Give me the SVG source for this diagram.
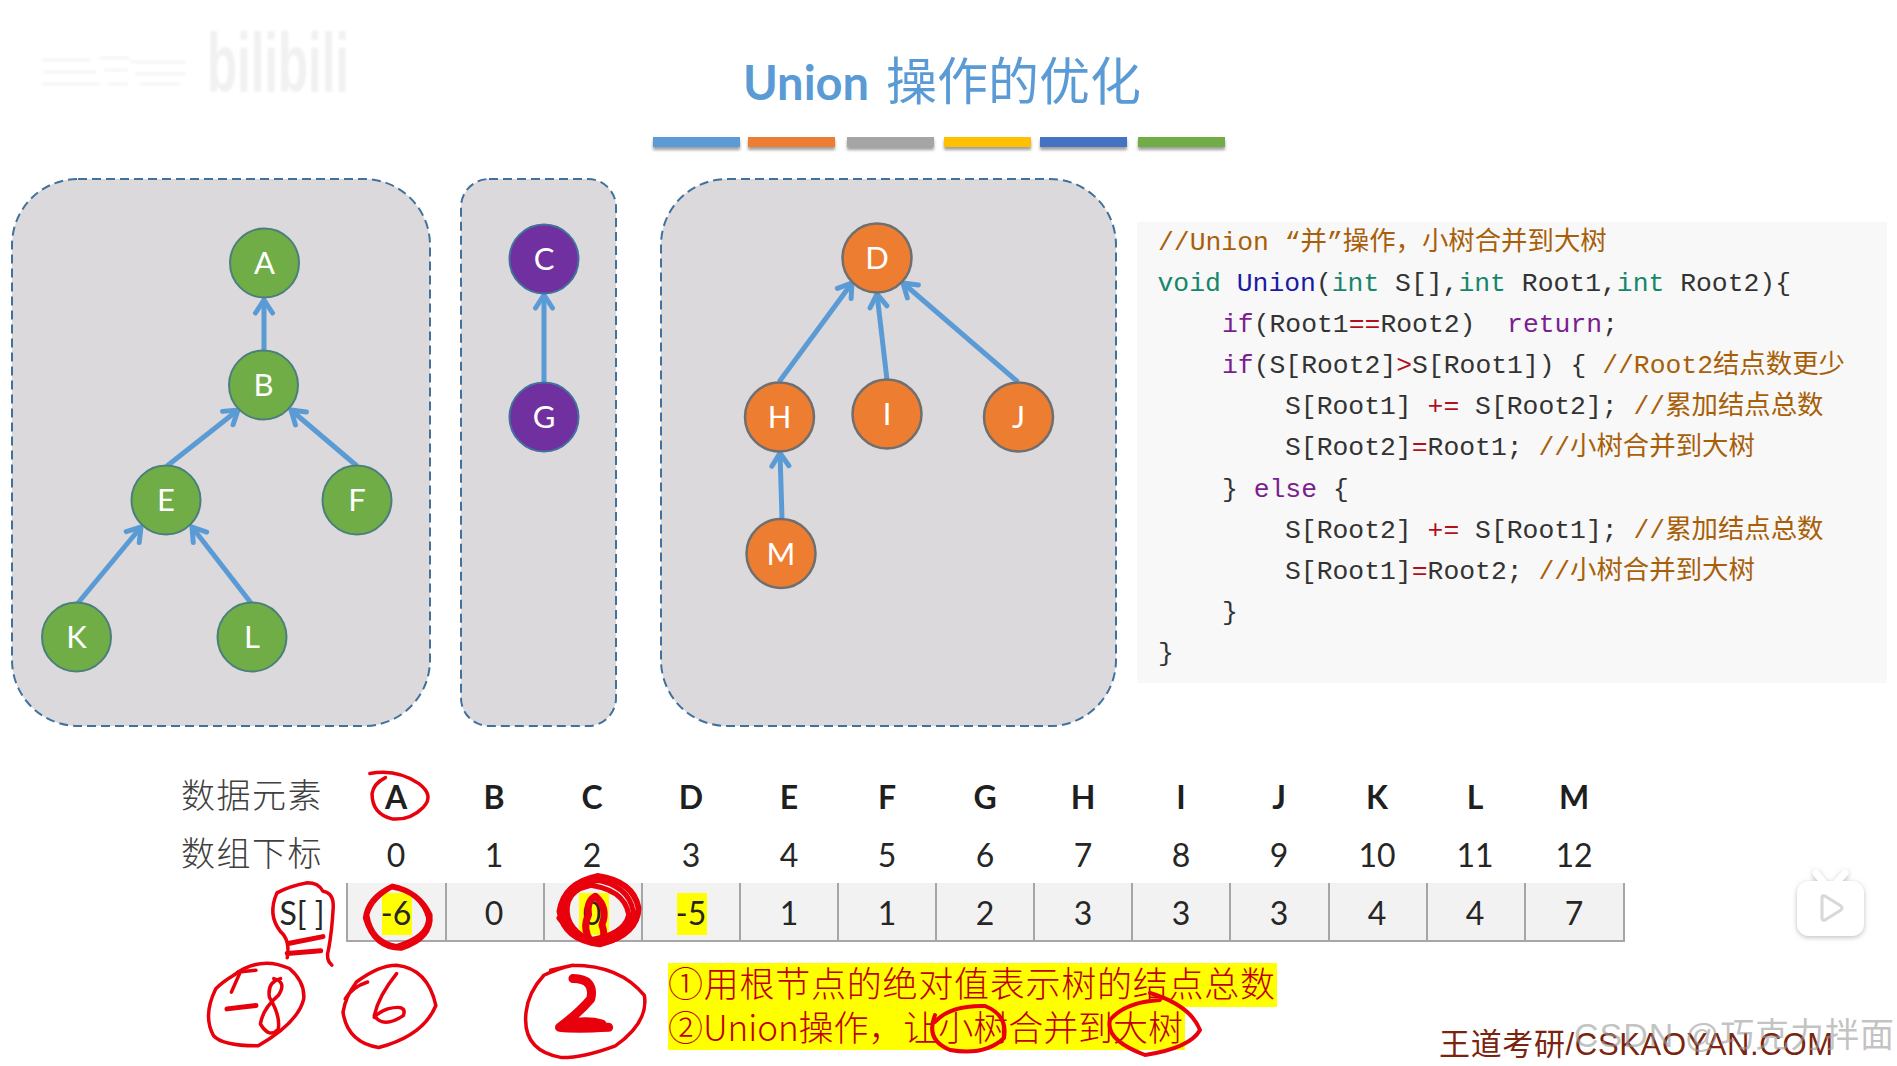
<svg xmlns="http://www.w3.org/2000/svg" width="1897" height="1066" viewBox="0 0 1897 1066">
<style>
text{font-family:"Liberation Sans","Noto Sans CJK SC",sans-serif}
.box{fill:#dbd9dc;stroke:#41719c;stroke-width:2;stroke-dasharray:9 5}
.edge{fill:none;stroke:#5b9bd5;stroke-width:5;marker-end:url(#arr)}
.nt{font-family:Lato,"Liberation Sans",sans-serif;font-size:31px;fill:#fff;text-anchor:middle}
.g{fill:#70ad47;stroke:#4a7f7c;stroke-width:2}
.p{fill:#7030a0;stroke:#41719c;stroke-width:2}
.o{fill:#ed7d31;stroke:#6f6f6f;stroke-width:2.5}
.code text{font-family:"Liberation Mono","Noto Sans CJK SC",monospace;font-size:26.4px;fill:#333;white-space:pre}
.cm{fill:#a85f0a}.kw{fill:#15866a}.fn{fill:#1a1aa6}.pk{fill:#7a1e90}.op{fill:#b01020}
.lab{font-family:"Noto Sans CJK SC",sans-serif;font-size:34px;fill:#404040;letter-spacing:1.5px;font-weight:300}
.hd{font-family:Lato,"Liberation Sans",sans-serif;font-size:32px;font-weight:700;fill:#1f1f1f;text-anchor:middle}
.ix{font-family:Lato,"Liberation Sans",sans-serif;font-size:32px;fill:#262626;text-anchor:middle}
.div{stroke:#a6a6a6;stroke-width:2}
.note{font-family:"Noto Sans CJK SC",sans-serif;font-size:35px;fill:#c00000;font-weight:300}
.ink{fill:none;stroke:#e8000c;stroke-width:3.5;stroke-linecap:round;stroke-linejoin:round}
.ink path{vector-effect:non-scaling-stroke}
.thick{stroke-width:6}
.bar{filter:url(#sh)}
</style>
<defs>
<marker id="arr" markerUnits="userSpaceOnUse" markerWidth="24" markerHeight="24" viewBox="0 0 24 24" refX="20" refY="12" orient="auto"><path d="M7 3.5L20 12L7 20.5" fill="none" stroke="#5b9bd5" stroke-width="5" stroke-linecap="round"/></marker>
<filter id="sh" x="-10%" y="-50%" width="120%" height="220%"><feDropShadow dx="0" dy="3" stdDeviation="1.5" flood-color="#777" flood-opacity=".7"/></filter>
<filter id="tv" x="-20%" y="-20%" width="140%" height="140%"><feDropShadow dx="0" dy="1.5" stdDeviation="2.5" flood-color="#888" flood-opacity=".55"/></filter>
<filter id="soft" x="-5%" y="-20%" width="110%" height="140%"><feGaussianBlur stdDeviation="1"/></filter>
</defs>
<rect width="1897" height="1066" fill="#fff"/>
<path d="M42 60H90M42 72H96M42 84H100M100 58H130M104 70H128M108 84H128M130 62H186M135 74H186M140 84H180" fill="none" stroke="#f8f8f8" stroke-width="4" filter="url(#soft)"/>
<text x="207" y="92" font-size="84" font-family="Lato,sans-serif" font-weight="700" fill="#f1f1f1" textLength="142" lengthAdjust="spacingAndGlyphs" filter="url(#soft)">bilibili</text>
<text id="title" x="743" y="100" font-size="51" fill="#5b9bd5"><tspan font-family="Lato,'Liberation Sans',sans-serif" font-weight="700" font-size="47">Union</tspan><tspan x="886" font-family="'Noto Sans CJK SC',sans-serif">操作的优化</tspan></text>
<g id="bars">
<rect class="bar" x="653" y="137" width="87" height="10" fill="#5b9bd5"/>
<rect class="bar" x="748" y="137" width="87" height="10" fill="#ed7d31"/>
<rect class="bar" x="847" y="137" width="87" height="10" fill="#a5a5a5"/>
<rect class="bar" x="944" y="137" width="87" height="10" fill="#ffc000"/>
<rect class="bar" x="1040" y="137" width="87" height="10" fill="#4472c4"/>
<rect class="bar" x="1138" y="137" width="87" height="10" fill="#70ad47"/>
</g>
<rect id="box1" class="box" x="12" y="179" width="418" height="547" rx="66"/>
<rect id="box2" class="box" x="461" y="179" width="155" height="547" rx="28"/>
<rect id="box3" class="box" x="661" y="179" width="455" height="547" rx="66"/>
<g id="connectors">
<path class="edge" d="M264 350L264 300"/>
<path class="edge" d="M167 466L238 410"/>
<path class="edge" d="M357 466L291 410"/>
<path class="edge" d="M78 603L141 527"/>
<path class="edge" d="M251 603L192 527"/>
<path class="edge" d="M544 382L544 295"/>
<path class="edge" d="M779 382L852 283"/>
<path class="edge" d="M887 380L877 294"/>
<path class="edge" d="M1018 382L903 283"/>
<path class="edge" d="M782 518L780 453"/>
</g>
<g id="node-A"><ellipse class="g" cx="264.500" cy="263" rx="34.500" ry="34.500"/><text class="nt" x="264.500" y="274">A</text></g>
<g id="node-B"><ellipse class="g" cx="263.500" cy="385" rx="34.500" ry="34.500"/><text class="nt" x="263.500" y="396">B</text></g>
<g id="node-E"><ellipse class="g" cx="166" cy="500" rx="34.500" ry="34.500"/><text class="nt" x="166" y="511">E</text></g>
<g id="node-F"><ellipse class="g" cx="357" cy="500" rx="34.500" ry="34.500"/><text class="nt" x="357" y="511">F</text></g>
<g id="node-K"><ellipse class="g" cx="76.500" cy="637" rx="34.500" ry="34.500"/><text class="nt" x="76.500" y="648">K</text></g>
<g id="node-L"><ellipse class="g" cx="252" cy="637" rx="34.500" ry="34.500"/><text class="nt" x="252" y="648">L</text></g>
<g id="node-C"><ellipse class="p" cx="544" cy="259" rx="34.500" ry="34.500"/><text class="nt" x="544" y="270">C</text></g>
<g id="node-G"><ellipse class="p" cx="544" cy="417" rx="34.500" ry="34.500"/><text class="nt" x="544" y="428">G</text></g>
<g id="node-D"><ellipse class="o" cx="877" cy="258" rx="34.500" ry="34.500"/><text class="nt" x="877" y="269">D</text></g>
<g id="node-H"><ellipse class="o" cx="779.500" cy="417" rx="34.500" ry="34.500"/><text class="nt" x="779.500" y="428">H</text></g>
<g id="node-I"><ellipse class="o" cx="887" cy="414" rx="34.500" ry="34.500"/><text class="nt" x="887" y="425">I</text></g>
<g id="node-J"><ellipse class="o" cx="1018.500" cy="417" rx="34.500" ry="34.500"/><text class="nt" x="1018.500" y="428">J</text></g>
<g id="node-M"><ellipse class="o" cx="781" cy="553.500" rx="34.500" ry="34.500"/><text class="nt" x="781" y="565">M</text></g>
<g id="code" class="code">
<rect x="1137" y="222" width="750" height="461" fill="#f8f8f8"/>
<text xml:space="preserve" x="1158" y="250"><tspan class="cm">//Union “并”操作，小树合并到大树</tspan></text>
<text xml:space="preserve" x="1157.500" y="291"><tspan class="kw">void</tspan> <tspan class="fn">Union</tspan>(<tspan class="kw">int</tspan> S[],<tspan class="kw">int</tspan> Root1,<tspan class="kw">int</tspan> Root2){</text>
<text xml:space="preserve" x="1222" y="332"><tspan class="pk">if</tspan>(Root1<tspan class="op">==</tspan>Root2)  <tspan class="pk">return</tspan>;</text>
<text xml:space="preserve" x="1222" y="373"><tspan class="pk">if</tspan>(S[Root2]<tspan class="op">&gt;</tspan>S[Root1]) { <tspan class="cm">//Root2结点数更少</tspan></text>
<text xml:space="preserve" x="1285" y="414">S[Root1] <tspan class="op">+=</tspan> S[Root2]; <tspan class="cm">//累加结点总数</tspan></text>
<text xml:space="preserve" x="1285" y="455">S[Root2]<tspan class="op">=</tspan>Root1; <tspan class="cm">//小树合并到大树</tspan></text>
<text xml:space="preserve" x="1222" y="497">} <tspan class="pk">else</tspan> {</text>
<text xml:space="preserve" x="1285" y="538">S[Root2] <tspan class="op">+=</tspan> S[Root1]; <tspan class="cm">//累加结点总数</tspan></text>
<text xml:space="preserve" x="1285" y="579">S[Root1]<tspan class="op">=</tspan>Root2; <tspan class="cm">//小树合并到大树</tspan></text>
<text xml:space="preserve" x="1222" y="620">}</text>
<text xml:space="preserve" x="1158" y="661">}</text>
</g>
<g id="table">
<text class="lab" x="181" y="808">数据元素</text>
<text class="lab" x="181" y="866">数组下标</text>
<text class="hd" x="396" y="809">A</text><text class="hd" x="494" y="809">B</text><text class="hd" x="592" y="809">C</text><text class="hd" x="691" y="809">D</text><text class="hd" x="789" y="809">E</text><text class="hd" x="887" y="809">F</text><text class="hd" x="985" y="809">G</text><text class="hd" x="1083" y="809">H</text><text class="hd" x="1181" y="809">I</text><text class="hd" x="1279" y="809">J</text><text class="hd" x="1377" y="809">K</text><text class="hd" x="1475" y="809">L</text><text class="hd" x="1574" y="809">M</text>
<text class="ix" x="396" y="867">0</text><text class="ix" x="494" y="867">1</text><text class="ix" x="592" y="867">2</text><text class="ix" x="691" y="867">3</text><text class="ix" x="789" y="867">4</text><text class="ix" x="887" y="867">5</text><text class="ix" x="985" y="867">6</text><text class="ix" x="1083" y="867">7</text><text class="ix" x="1181" y="867">8</text><text class="ix" x="1279" y="867">9</text><text class="ix" x="1377" y="867">10</text><text class="ix" x="1475" y="867">11</text><text class="ix" x="1574" y="867">12</text>
<rect x="348" y="883" width="1276" height="58" fill="#f2f2f2"/>
<path class="div" fill="none" d="M347 883V941H1624V883M446 883V941M544 883V941M642 883V941M740 883V941M838 883V941M936 883V941M1034 883V941M1132 883V941M1230 883V941M1329 883V941M1427 883V941M1525 883V941"/>
<rect x="382" y="893" width="30" height="42" fill="#ffff00"/>
<rect x="579" y="893" width="30" height="42" fill="#ffff00"/>
<rect x="677" y="893" width="30" height="42" fill="#ffff00"/>
<text class="ix" x="302" y="925">S[ ]</text>
<text class="ix" x="396" y="925">-6</text><text class="ix" x="494" y="925">0</text><text class="ix" x="592" y="925">0</text><text class="ix" x="691" y="925">-5</text><text class="ix" x="789" y="925">1</text><text class="ix" x="887" y="925">1</text><text class="ix" x="985" y="925">2</text><text class="ix" x="1083" y="925">3</text><text class="ix" x="1181" y="925">3</text><text class="ix" x="1279" y="925">3</text><text class="ix" x="1377" y="925">4</text><text class="ix" x="1475" y="925">4</text><text class="ix" x="1574" y="925">7</text>
</g>
<g id="note">
<rect x="668" y="963" width="609" height="44" fill="#ffff00"/>
<rect x="668" y="1007" width="517" height="43" fill="#ffff00"/>
<text class="note" x="668" y="997" textLength="607">①用根节点的绝对值表示树的结点总数</text>
<text class="note" x="668" y="1041" textLength="515">②Union操作，让小树合并到大树</text>
</g>
<g id="watermark">
<text x="1439" y="1055" font-size="31" fill="#7a2410" textLength="394">王道考研/CSKAOYAN.COM</text>
<text x="1574" y="1047" font-size="34" fill="#9a9a9a" fill-opacity=".6" textLength="320">CSDN @巧克力拌面</text>
</g>
<g id="tv-icon">
<g filter="url(#tv)" fill="#fff">
<rect x="1797" y="881" width="67" height="55" rx="12"/>
<path d="M1816 873L1824 883M1845 873L1836 883" stroke="#fff" stroke-width="7" stroke-linecap="round" fill="none"/>
</g>
<path d="M1822 897Q1822 895 1825 896L1841 906Q1843 908 1841 910L1825 920Q1822 921 1822 918Z" fill="none" stroke="#d8d8d8" stroke-width="3" stroke-linejoin="round"/>
</g>
<g id="ink" class="ink" transform="translate(160 750) scale(.4464 .3362)">
<path d="M470 70Q530 55 580 100Q615 135 590 170Q560 210 520 205Q475 190 475 130Q478 100 505 82"/>
<path d="M262 425Q290 405 330 395Q355 395 365 420Q390 425 388 470Q385 540 378 590Q370 625 385 640M262 425Q240 490 270 540Q292 565 285 618"/>
<path d="M290 575L365 555M285 605L360 597" style="stroke-width:5"/>
<path d="M520 405Q580 420 605 490Q610 560 540 590Q480 590 460 500Q465 440 520 405" style="stroke-width:5"/>
<path d="M520 410Q585 425 600 500Q600 555 530 582Q475 570 465 490Q475 440 525 405"/>
<path d="M980 375Q1060 390 1072 470Q1070 550 985 578Q905 565 895 480Q905 395 980 375" style="stroke-width:6"/>
<path d="M970 385Q1050 400 1060 480Q1055 540 985 570Q915 555 905 475Q915 405 990 385" style="stroke-width:5"/>
<path d="M950 400Q1040 410 1050 490Q1040 550 960 565Q900 520 915 450Q925 415 960 405" style="stroke-width:5"/>
<path d="M895 500Q930 560 985 575Q1050 560 1065 500" style="stroke-width:6"/>
<path d="M975 435Q1005 470 990 520Q1005 575 965 570Q945 530 960 490Q955 450 975 435Z" style="stroke-width:7"/>
<path d="M165 670Q225 610 290 650Q325 690 322 740Q310 810 220 880Q140 880 120 850Q95 790 125 710Q140 690 165 670"/>
<path d="M160 720L180 660M175 660L215 655"/>
<path d="M150 770L215 760" style="stroke-width:5"/>
<path d="M270 680Q240 690 245 735Q270 790 265 830Q245 860 225 815Q230 770 265 730Q285 690 255 680"/>
<path d="M415 740Q430 705 465 690M440 690Q490 640 530 640Q600 650 618 760Q590 850 490 885Q420 870 410 780Q415 735 440 690"/>
<path d="M530 665Q490 730 480 790Q500 830 545 790Q555 755 510 770Q490 780 480 795"/>
<path d="M875 655L925 640Q1030 640 1085 730Q1095 810 1020 880Q950 915 900 915Q810 895 820 780Q825 720 860 670Q890 650 925 640"/>
<path d="M925 680Q975 680 965 740Q940 780 895 825Q930 830 1005 825M900 820Q950 800 990 815" style="stroke-width:9"/>
</g>
<g class="ink">
<path d="M935 1022Q950 1005 985 1006Q1008 1015 1004 1038Q985 1056 950 1050Q925 1040 935 1015" style="stroke-width:4"/>
<path d="M1150 993Q1190 1005 1200 1030Q1190 1048 1145 1055Q1105 1040 1110 1020Q1125 1002 1160 1000" style="stroke-width:4"/>
</g>
</svg>
